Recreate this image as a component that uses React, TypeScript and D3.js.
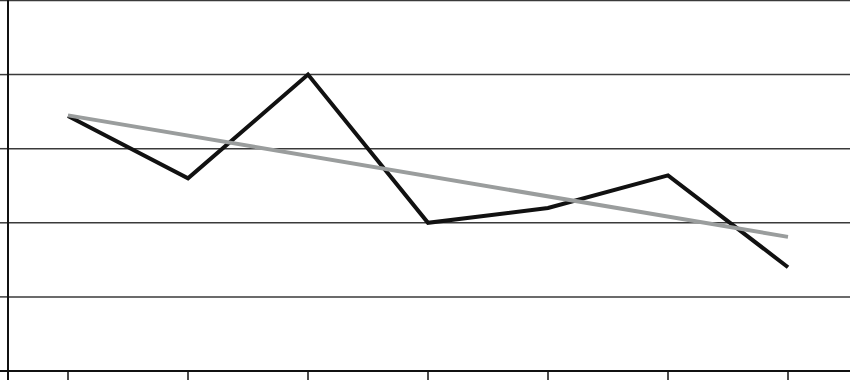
import React from "react";
import * as d3 from "d3";

const categories = ["1", "2", "3", "4", "5", "6", "7"];
const values = [3.44, 2.6, 4.0, 2.0, 2.2, 2.64, 1.4];
const trendStart = 3.45;
const trendEnd = 1.81;
const yTicks = [0, 1, 2, 3, 4, 5];

const W = 850;
const H = 380;
const left = 8;
const top = 0.5;
const plotH = 371 - top;
const plotW = 840;

export default function App() {
  const x = d3.scaleBand<string>().domain(categories).range([left, left + plotW]);
  const y = d3.scaleLinear().domain([0, 5]).range([top + plotH, top]);
  const cx = (c: string) => (x(c) as number) + x.bandwidth() / 2;
  const line = d3
    .line<number>()
    .x((_, i) => cx(categories[i]))
    .y((d) => y(d));
  const trend = [
    [cx(categories[0]), y(trendStart)],
    [cx(categories[categories.length - 1]), y(trendEnd)],
  ];
  return (
    <svg
      width={W}
      height={H}
      style={{ position: "absolute", left: 0, top: 0, display: "block", background: "#fff" }}
    >
      {yTicks.filter((t) => t > 0).map((t) => (
        <line key={t} x1={left} x2={W} y1={y(t)} y2={y(t)} stroke="#3a3a3a" strokeWidth={1.5} />
      ))}
      {yTicks.map((t) => (
        <line key={"yt" + t} x1={0} x2={left} y1={y(t)} y2={y(t)} stroke="#3a3a3a" strokeWidth={1.5} />
      ))}
      <line x1={left} x2={left} y1={0} y2={H} stroke="#111" strokeWidth={2} />
      <line x1={0} x2={W} y1={y(0)} y2={y(0)} stroke="#111" strokeWidth={2} />
      {categories.map((c) => (
        <line key={"xt" + c} x1={cx(c)} x2={cx(c)} y1={y(0)} y2={H} stroke="#111" strokeWidth={1.5} />
      ))}
      <path d={line(values) || ""} fill="none" stroke="#111" strokeWidth={4} strokeLinejoin="miter" />
      <line
        x1={trend[0][0]}
        y1={trend[0][1]}
        x2={trend[1][0]}
        y2={trend[1][1]}
        stroke="#9a9d9d"
        strokeWidth={4}
      />
    </svg>
  );
}
